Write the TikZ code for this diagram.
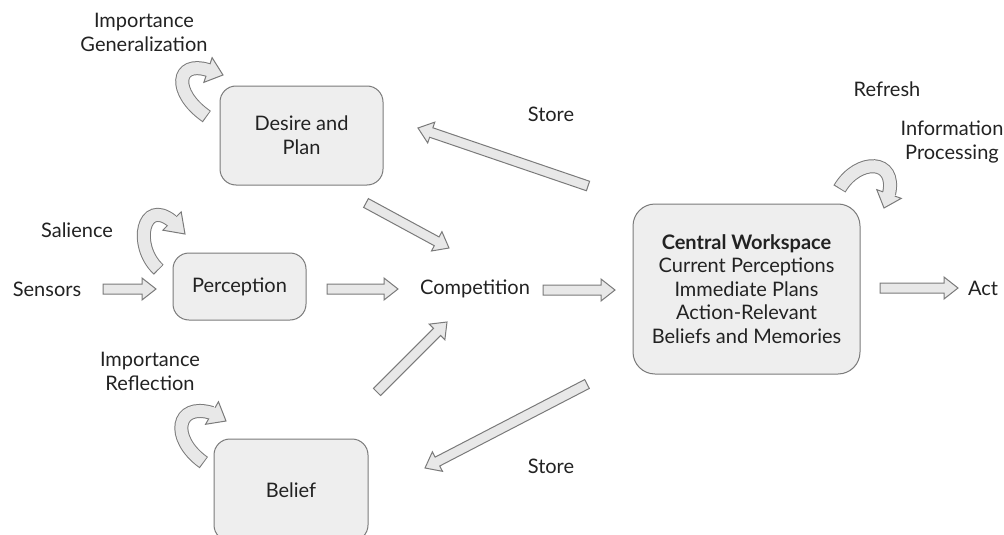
\documentclass[tikz,border=0pt]{standalone}
\usepackage{fontspec}
\setmainfont{Lato}
\usetikzlibrary{calc}
\definecolor{boxfill}{HTML}{EEEEEE}
\definecolor{boxedge}{HTML}{7A7A7A}
\definecolor{arrfill}{HTML}{E8E8E8}
\definecolor{arredge}{HTML}{7A7A7A}
\definecolor{txt}{HTML}{222222}
\newcommand{\blockarr}[2]{%
  \coordinate (hb) at ($(#2)!14pt!(#1)$);
  \filldraw[blockarrow] ($(#1)!5pt!90:(#2)$) -- ($(hb)!5pt!-90:(#1)$) -- ($(hb)!11pt!-90:(#1)$) -- (#2)
    -- ($(hb)!11pt!90:(#1)$) -- ($(hb)!5pt!90:(#1)$) -- ($(#1)!5pt!-90:(#2)$) -- cycle;}
\newcommand{\curvearr}[5]{% tail, c1, c2, base, tip
  \draw[shaftout] ($(#1)!-1pt!(#2)$) -- (#1) .. controls (#2) and (#3) .. (#4);
  \filldraw[blockarrow] ($(#4)!13pt!90:(#5)$) -- (#5) -- ($(#4)!13pt!-90:(#5)$) -- cycle;
  \draw[shaftin] (#1) .. controls (#2) and (#3) .. (#4) -- ($(#4)!2pt!(#5)$);}
\begin{document}
\begin{tikzpicture}[x=1pt,y=-1pt,
  every node/.style={font=\fontsize{20}{24}\selectfont, text=txt},
  box/.style={draw=boxedge, fill=boxfill, rounded corners=16pt, line width=1pt, align=center, inner sep=0pt},
  lbl/.style={align=center, inner sep=0pt},
  blockarrow/.style={draw=arredge, fill=arrfill, line width=1pt, line join=miter},
  shaftout/.style={draw=arredge, line width=14pt, line cap=butt},
  shaftin/.style={draw=arrfill, line width=12pt, line cap=butt}]
\useasboundingbox (0,0) rectangle (1004,535);

% boxes
\node[box, minimum width=163pt, minimum height=99pt] (desire) at (301.5,135.5) {Desire and\\Plan};
\node[box, minimum width=133pt, minimum height=67pt] (perc) at (239.5,286.5) {Perception};
\node[box, minimum width=154pt, minimum height=102pt] (belief) at (291,490) {Belief};
\node[box, minimum width=227pt, minimum height=170pt, rounded corners=22pt,
      font=\fontsize{20}{23.5}\selectfont] (cw) at (746.5,289)
  {\textbf{Central Workspace}\\Current Perceptions\\Immediate Plans\\Action-Relevant\\Beliefs and Memories};

% labels
\node[lbl] (gen) at (144,32.5) {Importance\\Generalization};
\node[lbl, anchor=base] (store1) at (551,121.5) {Store};
\node[lbl, anchor=base] (refresh) at (887,96.5) {Refresh};
\node[lbl] (info) at (952,142) {Information\\Processing};
\node[lbl, anchor=base] (sal) at (77,237) {Salience};
\node[lbl, anchor=base] (sensors) at (47,296.5) {Sensors};
\node[lbl, anchor=base] (comp) at (475,294) {Competition};
\node[lbl, anchor=base] (act) at (983,295) {Act};
\node[lbl] (refl) at (150,371) {Importance\\Reflection};
\node[lbl, anchor=base] (store2) at (551,473.5) {Store};

% straight block arrows
\coordinate (s1) at (103,289); \coordinate (s2) at (156,289);
\coordinate (p1) at (327,289); \coordinate (p2) at (398,289);
\coordinate (k1) at (543,290); \coordinate (k2) at (615,290);
\coordinate (a1) at (880,288); \coordinate (a2) at (958,288);
\coordinate (d1) at (366,203); \coordinate (d2) at (449,248);
\coordinate (b1) at (377,392); \coordinate (b2) at (447,322);
\coordinate (t1) at (588,186); \coordinate (t2) at (418,128);
\coordinate (u1) at (587,384); \coordinate (u2) at (425,468);
\blockarr{s1}{s2}
\blockarr{p1}{p2}
\blockarr{k1}{k2}
\blockarr{a1}{a2}
\blockarr{d1}{d2}
\blockarr{b1}{b2}
\blockarr{t1}{t2}
\blockarr{u1}{u2}

% curved arrows
\coordinate (ga) at (206,116); \coordinate (gb) at (172,92); \coordinate (gc) at (176,60);
\coordinate (gd) at (208,70); \coordinate (ge) at (223,75);
\curvearr{ga}{gb}{gc}{gd}{ge}
\coordinate (sa) at (158,269); \coordinate (sb) at (133,245); \coordinate (sc) at (143,198);
\coordinate (sd) at (172,221); \coordinate (se) at (185,234);
\curvearr{sa}{sb}{sc}{sd}{se}
\coordinate (ra) at (203,462); \coordinate (rb) at (170,438); \coordinate (rc) at (176,402);
\coordinate (rd) at (212,413); \coordinate (re) at (226,421);
\curvearr{ra}{rb}{rc}{rd}{re}
\coordinate (fa) at (840,188); \coordinate (fb) at (858,158); \coordinate (fc) at (897,158);
\coordinate (fd) at (889,194); \coordinate (fe) at (884,208);
\curvearr{fa}{fb}{fc}{fd}{fe}
\end{tikzpicture}
\end{document}
